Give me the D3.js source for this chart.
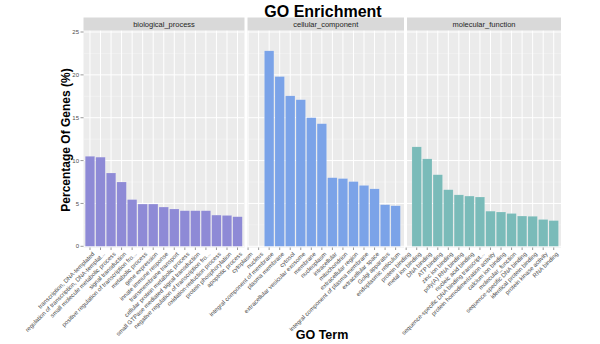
<!DOCTYPE html>
<html><head><meta charset="utf-8">
<script src="https://cdn.jsdelivr.net/npm/d3@7"></script>
<style>body{margin:0;background:#fff}svg{display:block;font-family:"Liberation Sans",Arial,sans-serif}</style>
</head><body><svg id="c" width="600" height="344"></svg>
<script>
const bioTerms = ["transcription, DNA-templated","regulation of transcription, DNA-templat...","small molecule metabolic process","signal transduction","positive regulation of transcription fro...","metabolic process","gene expression","innate immune response","transmembrane transport","cellular protein metabolic process","small GTPase mediated signal transduction","negative regulation of transcription fro...","oxidation-reduction process","protein phosphorylation","apoptotic process"];
const bioValues = [10.5,10.4,8.55,7.5,5.45,4.93,4.93,4.58,4.35,4.15,4.15,4.15,3.64,3.6,3.45];
const ccTerms = ["cytoplasm","nucleus","integral component of membrane","plasma membrane","cytosol","extracellular vesicular exosome","membrane","nucleoplasm","intracellular","mitochondrion","extracellular region","integral component of plasma membrane","extracellular space","Golgi apparatus","endoplasmic reticulum"];
const ccValues = [null,null,22.8,19.8,17.55,17.1,15.0,14.3,8.0,7.9,7.55,7.1,6.7,4.85,4.73];
const mfTerms = ["protein binding","metal ion binding","DNA binding","ATP binding","zinc ion binding","poly(A) RNA binding","nucleic acid binding","sequence-specific DNA binding transcript...","protein homodimerization activity","calcium ion binding","molecular_function","sequence-specific DNA binding","identical protein binding","protein kinase activity","RNA binding"];
const mfValues = [null,11.6,10.2,8.35,6.6,6.0,5.86,5.75,4.1,4.0,3.83,3.53,3.5,3.13,3.0];
const panelNames = ["biological_process","cellular_component","molecular_function"];
const panelColors = ["#8E8AD6","#7BA3E8","#7ABBB9"];
const yTicks = [0,5,10,15,20,25];

const svg = d3.select("#c");
const groups = [
  {name:panelNames[0], terms:bioTerms, values:bioValues, color:panelColors[0], x0:83.5, x1:244.5},
  {name:panelNames[1], terms:ccTerms, values:ccValues, color:panelColors[1], x0:247.5, x1:404},
  {name:panelNames[2], terms:mfTerms, values:mfValues, color:panelColors[2], x0:407, x1:561}
];
const allTerms = [].concat(bioTerms, ccTerms, mfTerms);
const x = d3.scaleBand().domain(allTerms).range([84.7, 559]).paddingInner(0.1).paddingOuter(0.05);
const y = d3.scaleLinear().domain([0,25]).range([246.3, 32]);
const pTop = 30.5, pBot = 247.5;

svg.append("text").attr("x",323).attr("y",17).attr("text-anchor","middle")
  .attr("font-size",16).attr("font-weight","bold").attr("fill","#000").text("GO Enrichment");

groups.forEach((g,gi)=>{
  const gp = svg.append("g");
  const cid = "clip"+gi;
  svg.append("clipPath").attr("id",cid).append("rect").attr("x",g.x0).attr("y",pTop).attr("width",g.x1-g.x0).attr("height",pBot-pTop);
  gp.append("rect").attr("x",g.x0).attr("y",pTop).attr("width",g.x1-g.x0).attr("height",pBot-pTop).attr("fill","#EBEBEB");
  gp.append("rect").attr("x",g.x0).attr("y",17.5).attr("width",g.x1-g.x0).attr("height",13).attr("fill","#D9D9D9");
  gp.append("text").attr("x",(g.x0+g.x1)/2).attr("y",26.8).attr("text-anchor","middle")
    .attr("font-size",7.5).attr("fill","#262626").text(g.name);
  const inner = gp.append("g").attr("clip-path",`url(#${cid})`);
  const minors = d3.range(2.5,25,5);
  inner.selectAll("line.mn").data(minors).join("line")
    .attr("x1",g.x0).attr("x2",g.x1).attr("y1",d=>y(d)).attr("y2",d=>y(d))
    .attr("stroke","#F7F7F7").attr("stroke-width",0.5);
  inner.selectAll("line.mj").data(yTicks).join("line")
    .attr("x1",g.x0).attr("x2",g.x1).attr("y1",d=>y(d)).attr("y2",d=>y(d))
    .attr("stroke","#FFFFFF").attr("stroke-width",1);
  inner.selectAll("line.vx").data(g.terms).join("line")
    .attr("x1",d=>x(d)+x.bandwidth()/2).attr("x2",d=>x(d)+x.bandwidth()/2)
    .attr("y1",pTop).attr("y2",pBot).attr("stroke","#FFFFFF").attr("stroke-width",1);
  const data = g.terms.map((t,i)=>({t, v:g.values[i]})).filter(d=>d.v!==null);
  inner.selectAll("rect.bar").data(data).join("rect")
    .attr("x",d=>x(d.t)).attr("width",x.bandwidth())
    .attr("y",d=>y(d.v)).attr("height",d=>y(0)-y(d.v))
    .attr("fill",g.color).attr("stroke","#FFFFFF").attr("stroke-opacity",0.35).attr("stroke-width",0.4);
});

const xa = svg.append("g");
xa.selectAll("line").data(allTerms).join("line")
  .attr("x1",d=>x(d)+x.bandwidth()/2).attr("x2",d=>x(d)+x.bandwidth()/2)
  .attr("y1",pBot).attr("y2",pBot+2.5).attr("stroke","#333").attr("stroke-width",0.5);
xa.selectAll("text").data(allTerms).join("text")
  .attr("transform",d=>`translate(${x(d)+x.bandwidth()/2+2},${pBot+4}) rotate(-45)`)
  .attr("text-anchor","end").attr("dy","0.7em").attr("font-size",6).attr("fill","#4D4D4D").text(d=>d);

const ya = svg.append("g");
ya.selectAll("line").data(yTicks).join("line")
  .attr("x1",80.5).attr("x2",83.5).attr("y1",d=>y(d)).attr("y2",d=>y(d)).attr("stroke","#333").attr("stroke-width",0.5);
ya.selectAll("text").data(yTicks).join("text")
  .attr("x",79).attr("y",d=>y(d)).attr("dy","0.35em").attr("text-anchor","end")
  .attr("font-size",6).attr("fill","#4D4D4D").text(d=>d);

svg.append("text").attr("transform","translate(70,140) rotate(-90)").attr("text-anchor","middle")
  .attr("font-size",12).attr("font-weight","bold").attr("fill","#000").text("Percentage Of Genes (%)");
svg.append("text").attr("x",322).attr("y",339).attr("text-anchor","middle")
  .attr("font-size",12.5).attr("font-weight","bold").attr("fill","#000").text("GO Term");
</script></body></html>
